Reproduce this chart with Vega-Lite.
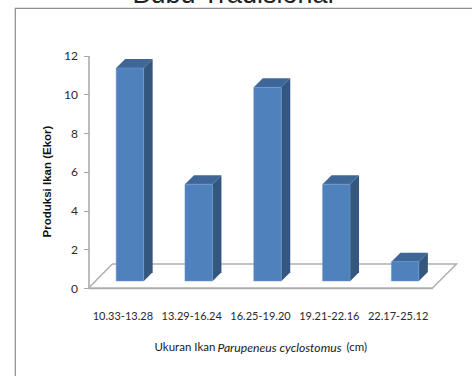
{
  "$schema": "https://vega.github.io/schema/vega-lite/v6.json",
  "width": 476,
  "height": 384,
  "autosize": "none",
  "padding": {"left": 15, "top": 8, "right": 0, "bottom": 0},
  "background": "white",
  "view": {"stroke": "#8c8c8c", "strokeWidth": 1.2, "fill": "white"},
  "data": {"values": [
    {"ukuran": "10.33-13.28", "produksi": 11},
    {"ukuran": "13.29-16.24", "produksi": 5},
    {"ukuran": "16.25-19.20", "produksi": 10},
    {"ukuran": "19.21-22.16", "produksi": 5},
    {"ukuran": "22.17-25.12", "produksi": 1}
  ]},
  "layer": [
    {
      "encoding": {
        "x": {"field": "ukuran", "type": "nominal", "sort": null,
          "scale": {"range": [73.5, 417.5], "paddingInner": 0, "paddingOuter": 0},
          "axis": {"offset": -104, "title": null, "labelAngle": 0, "labelFont": "Lato", "labelFontSize": 11, "labelColor": "#2a2a2a", "labelPadding": 22, "ticks": false, "domainColor": "#a6a6a6", "domainWidth": 1.5}},
        "y": {"field": "produksi", "type": "quantitative",
          "scale": {"domain": [0, 12], "range": [280, 47.5], "nice": false},
          "axis": {"offset": -73.5, "values": [0, 2, 4, 6, 8, 10, 12], "grid": false, "title": "Produksi Ikan (Ekor)", "titleFont": "Liberation Sans", "titleFontSize": 11.5, "titleFontWeight": "bold", "titleColor": "#111111", "titleX": -36, "titleY": 173, "labelFont": "Lato", "labelFontSize": 12, "labelColor": "#2a2a2a", "labelPadding": 6, "tickSize": 5, "tickColor": "#a6a6a6", "domainColor": "#a6a6a6", "domainWidth": 1.5}}
      },
      "layer": [
        {
          "transform": [{"filter": "datum.ukuran === '10.33-13.28'"}],
          "mark": {"type": "point", "filled": false, "opacity": 1, "size": 4, "stroke": "#b0b0b0", "strokeWidth": 1.5, "fill": "white",
            "shape": "M-34.4,0L-10.4,-24L333.6,-24L309.6,0Z"},
          "encoding": {"y": {"datum": 0, "type": "quantitative"}}
        },
        {
          "mark": {"type": "point", "filled": true, "opacity": 1, "size": 4, "color": "#34577f"},
          "encoding": {
            "shape": {"field": "produksi", "type": "nominal", "legend": null,
            "scale": {"domain": [1, 5, 10, 11], "range": [
              "M20.75,-7L29.75,-16L29.75,3.4L20.75,12.4Z",
              "M20.75,-7L29.75,-16L29.75,81L20.75,90Z",
              "M20.75,-7L29.75,-16L29.75,178L20.75,187Z",
              "M20.75,-7L29.75,-16L29.75,197.4L20.75,206.4Z"
            ]}}}
        },
        {
          "mark": {"type": "point", "filled": true, "opacity": 1, "size": 4, "color": "#3e6797",
            "shape": "M-6.75,-7L2.25,-16L29.75,-16L20.75,-7Z"}
        },
        {
          "mark": {"type": "bar", "size": 27.5, "xOffset": 7, "yOffset": -7, "color": "#4f81bd", "stroke": "#6f9bd1", "strokeWidth": 0.5}
        }
      ]
    },
    {
      "data": {"values": [{"teks": "Bubu Tradisional"}]},
      "mark": {"type": "text", "font": "Liberation Sans", "fontSize": 27, "align": "left", "baseline": "alphabetic", "color": "#222222", "dx": -128},
      "encoding": {"x": {"datum": "16.25-19.20"}, "y": {"datum": 14.71}, "text": {"field": "teks", "type": "nominal"}}
    },
    {
      "data": {"values": [{"teks": "Ukuran Ikan"}]},
      "mark": {"type": "text", "font": "Lato", "fontSize": 11.5, "align": "left", "baseline": "middle", "color": "#1a1a1a", "dx": -106},
      "encoding": {"x": {"datum": "16.25-19.20"}, "y": {"datum": -3.1}, "text": {"field": "teks", "type": "nominal"}}
    },
    {
      "data": {"values": [{"teks": "Parupeneus cyclostomus"}]},
      "mark": {"type": "text", "font": "Lato", "fontSize": 12.2, "fontStyle": "italic", "align": "left", "baseline": "middle", "color": "#1a1a1a", "dx": -43},
      "encoding": {"x": {"datum": "16.25-19.20"}, "y": {"datum": -3.1}, "text": {"field": "teks", "type": "nominal"}}
    },
    {
      "data": {"values": [{"teks": "(cm)"}]},
      "mark": {"type": "text", "font": "Lato", "fontSize": 11.5, "align": "left", "baseline": "middle", "color": "#1a1a1a", "dx": 86},
      "encoding": {"x": {"datum": "16.25-19.20"}, "y": {"datum": -3.1}, "text": {"field": "teks", "type": "nominal"}}
    }
  ]
}
